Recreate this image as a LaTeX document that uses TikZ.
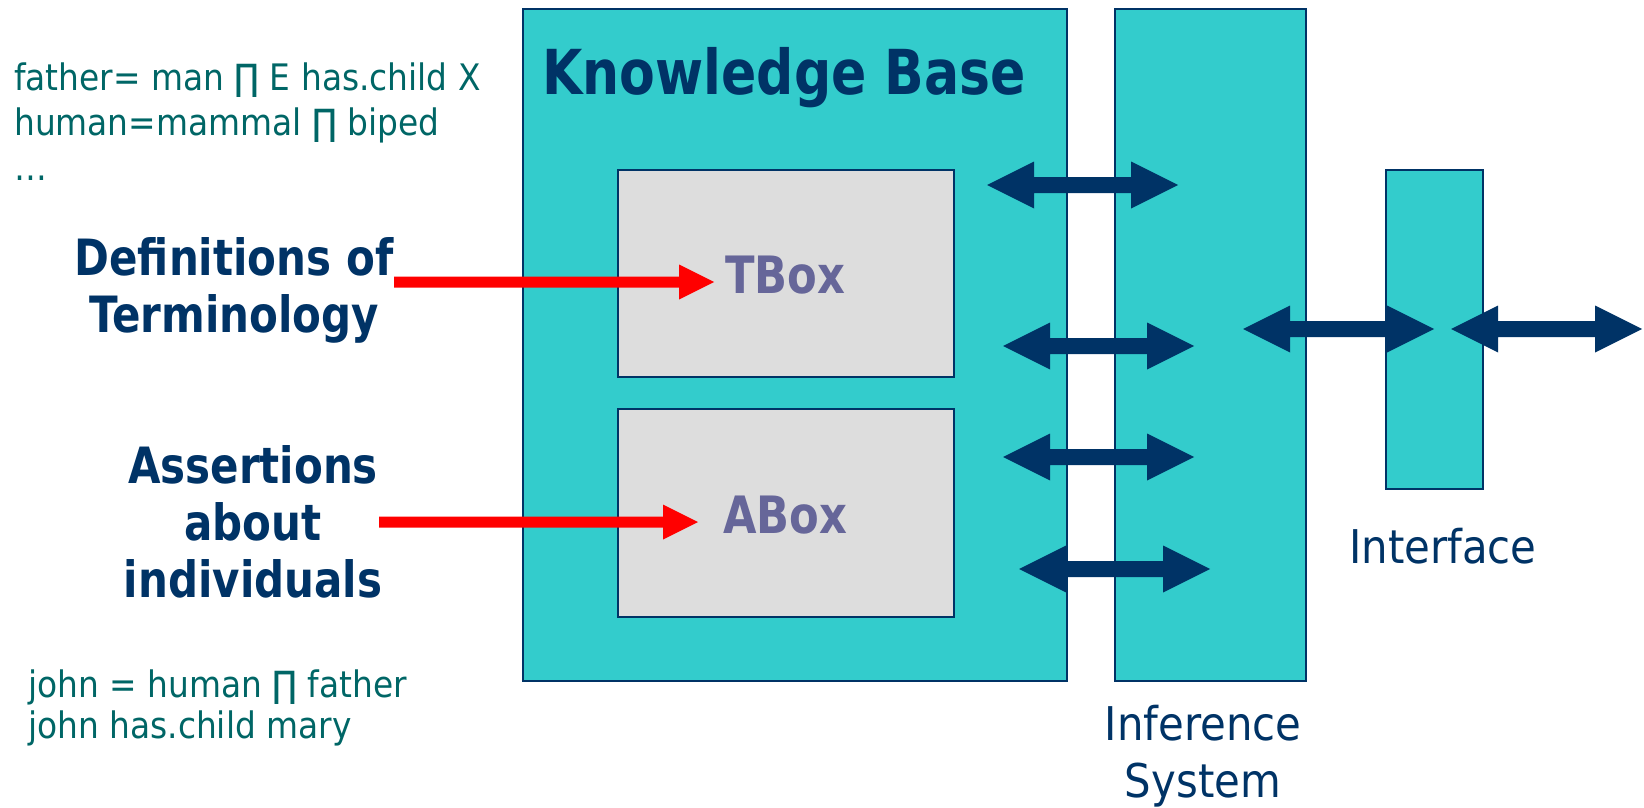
\documentclass[tikz,border=0pt]{standalone}
\usepackage{fontspec}
\usetikzlibrary{calc}

% Narrowed DejaVu Sans, close to the humanist sans of the slide
\newfontfamily\heavyface[FakeStretch=0.84]{DejaVu Sans}
\newfontfamily\plainface[FakeStretch=0.9]{DejaVu Sans}

\definecolor{kbcyan}{HTML}{33CCCC}
\definecolor{kbnavy}{HTML}{003366}
\definecolor{kbteal}{HTML}{006666}
\definecolor{kbgray}{HTML}{DDDDDD}
\definecolor{kbslate}{HTML}{666699}
\definecolor{kbred}{HTML}{FF0000}

\tikzset{
  panel/.style={draw=kbnavy, line width=1.5pt, fill=kbcyan, inner sep=0pt, outer sep=0pt, anchor=north west},
  store/.style={draw=kbnavy, line width=1.5pt, fill=kbgray, inner sep=0pt, outer sep=0pt, anchor=north west},
  title/.style={text=kbnavy, inner sep=0pt, font=\heavyface\bfseries\fontsize{62}{70}\selectfont},
  boxname/.style={text=kbslate, inner sep=0pt, font=\heavyface\bfseries\fontsize{51.5}{57}\selectfont},
  sidenote/.style={text=kbnavy, inner sep=0pt, align=center, font=\heavyface\bfseries\fontsize{50}{57}\selectfont},
  partname/.style={text=kbnavy, inner sep=0pt, font=\plainface\fontsize{46.5}{57}\selectfont},
  formula/.style={text=kbteal, inner sep=0pt, align=left, font=\plainface\fontsize{36.5}{45}\selectfont},
  link/.style={fill=kbnavy},
  pointer/.style={fill=kbred},
}

% two-headed horizontal connector between named left and right ends
\newcommand\twoway[2]{%
  \fill[link] (#1) -- ++(47,-23.5) -- ++(0,15.5) -- ($(#2)+(-47,-8)$) -- ++(0,-15.5)
    -- (#2) -- ++(-47,23.5) -- ++(0,-15.5) -- ($(#1)+(47,8)$) -- ++(0,15.5) -- cycle;}
% one-headed horizontal pointer from a tail to a tip
\newcommand\oneway[2]{%
  \fill[pointer] ($(#1)+(0,-5.5)$) -- ($(#2)+(-35,-5.5)$) -- ++(0,-12) -- (#2)
    -- ++(-35,17.5) -- ++(0,-12) -- ($(#1)+(0,5.5)$) -- cycle;}

\begin{document}
\begin{tikzpicture}[x=1pt, y=-1pt]
\useasboundingbox (0,0) rectangle (1644,808);

% main blocks
\node[panel, minimum width=544pt, minimum height=672pt] (kb) at (523,9) {};
\node[panel, minimum width=191pt, minimum height=672pt] (inf) at (1115,9) {};
\node[panel, minimum width=97pt, minimum height=319pt] (ui) at (1386,170) {};
\node[store, minimum width=336pt, minimum height=207pt] (tbox) at (618,170) {};
\node[store, minimum width=336pt, minimum height=208pt] (abox) at (618,409) {};

% titles inside the blocks
\node[title, anchor=base west] (kbtitle) at (542,94) {Knowledge Base};
\node[boxname, anchor=base west] (tname) at (725,293) {TBox};
\node[boxname, anchor=base west] (aname) at (723,533) {ABox};

% captions (multi-line nodes are anchored at the last baseline)
\node[partname, anchor=base west] (uiname) at (1349,563) {Interface};
\node[partname, anchor=base, align=center] (infname) at (1203,797) {Inference\\System};

% side notes
\node[sidenote, anchor=base] (defs) at (234,332) {Definitions of\\Terminology};
\node[sidenote, anchor=base] (asserts) at (253,597) {Assertions\\about\\individuals};

% example axioms
\node[formula, anchor=base west] (tax) at (14,180) {father= man ∏ E has.child X\\human=mammal ∏ biped\\…};
\node[formula, anchor=base west, font=\plainface\fontsize{36.5}{41}\selectfont] (aax) at (28,738) {john = human ∏ father\\john has.child mary};

% connector ends
\coordinate (d1a) at (987,185);  \coordinate (d1b) at (1178,185);
\coordinate (d2a) at (1003,346); \coordinate (d2b) at (1194,346);
\coordinate (d3a) at (1003,457); \coordinate (d3b) at (1194,457);
\coordinate (d4a) at (1019,569); \coordinate (d4b) at (1210,569);
\coordinate (d5a) at (1243,329); \coordinate (d5b) at (1434,329);
\coordinate (d6a) at (1451,329); \coordinate (d6b) at (1642,329);
\coordinate (tfrom) at (394,282); \coordinate (tto) at (714,282);
\coordinate (afrom) at (379,522); \coordinate (ato) at (698,522);

% knowledge base <-> inference system <-> interface <-> outside
\twoway{d1a}{d1b}
\twoway{d2a}{d2b}
\twoway{d3a}{d3b}
\twoway{d4a}{d4b}
\twoway{d5a}{d5b}
\twoway{d6a}{d6b}

% notes feeding the boxes
\oneway{tfrom}{tto}
\oneway{afrom}{ato}
\end{tikzpicture}
\end{document}
